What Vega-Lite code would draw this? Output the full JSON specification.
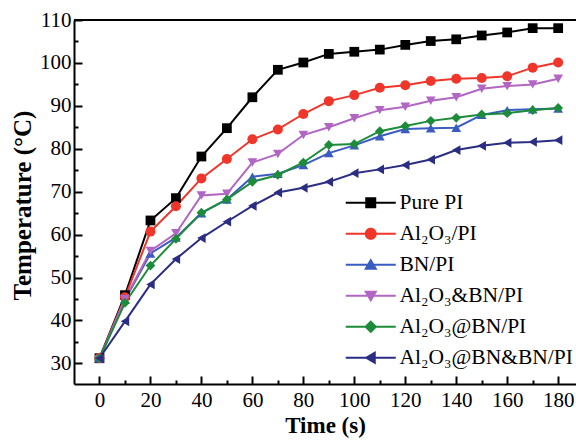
{
  "$schema": "https://vega.github.io/schema/vega-lite/v6.json",
  "width": 502,
  "height": 364,
  "autosize": {"type": "none"},
  "padding": {"left": 74, "top": 20, "right": 0, "bottom": 60},
  "background": "white",
  "config": {
    "view": {"stroke": null},
    "axis": {
      "grid": false,
      "domainColor": "black",
      "domainWidth": 2,
      "tickColor": "black",
      "tickWidth": 2,
      "labelFont": "Liberation Serif",
      "labelFontSize": 21,
      "labelColor": "black",
      "titleFont": "Liberation Serif",
      "titleFontSize": 23,
      "titleFontWeight": "bold",
      "titleColor": "black"
    },
    "legend": {
      "labelFont": "Liberation Serif",
      "labelFontSize": 21.5,
      "labelColor": "black",
      "labelLimit": 400,
      "symbolOpacity": 1,
      "symbolStrokeWidth": 0
    }
  },
  "data": {
    "values": [
      {"t": 0, "T": 31.2, "s": "Pure PI"}, {"t": 10, "T": 45.9, "s": "Pure PI"}, {"t": 20, "T": 63.3, "s": "Pure PI"}, {"t": 30, "T": 68.5, "s": "Pure PI"}, {"t": 40, "T": 78.2, "s": "Pure PI"}, {"t": 50, "T": 84.8, "s": "Pure PI"}, {"t": 60, "T": 92.0, "s": "Pure PI"}, {"t": 70, "T": 98.4, "s": "Pure PI"}, {"t": 80, "T": 100.1, "s": "Pure PI"}, {"t": 90, "T": 102.1, "s": "Pure PI"}, {"t": 100, "T": 102.6, "s": "Pure PI"}, {"t": 110, "T": 103.1, "s": "Pure PI"}, {"t": 120, "T": 104.2, "s": "Pure PI"}, {"t": 130, "T": 105.1, "s": "Pure PI"}, {"t": 140, "T": 105.5, "s": "Pure PI"}, {"t": 150, "T": 106.4, "s": "Pure PI"}, {"t": 160, "T": 107.1, "s": "Pure PI"}, {"t": 170, "T": 108.1, "s": "Pure PI"}, {"t": 180, "T": 108.1, "s": "Pure PI"},
      {"t": 0, "T": 31.2, "s": "Al₂O₃/PI"}, {"t": 10, "T": 45.4, "s": "Al₂O₃/PI"}, {"t": 20, "T": 60.7, "s": "Al₂O₃/PI"}, {"t": 30, "T": 66.6, "s": "Al₂O₃/PI"}, {"t": 40, "T": 73.1, "s": "Al₂O₃/PI"}, {"t": 50, "T": 77.6, "s": "Al₂O₃/PI"}, {"t": 60, "T": 82.2, "s": "Al₂O₃/PI"}, {"t": 70, "T": 84.5, "s": "Al₂O₃/PI"}, {"t": 80, "T": 88.1, "s": "Al₂O₃/PI"}, {"t": 90, "T": 91.1, "s": "Al₂O₃/PI"}, {"t": 100, "T": 92.5, "s": "Al₂O₃/PI"}, {"t": 110, "T": 94.2, "s": "Al₂O₃/PI"}, {"t": 120, "T": 94.8, "s": "Al₂O₃/PI"}, {"t": 130, "T": 95.8, "s": "Al₂O₃/PI"}, {"t": 140, "T": 96.3, "s": "Al₂O₃/PI"}, {"t": 150, "T": 96.5, "s": "Al₂O₃/PI"}, {"t": 160, "T": 96.9, "s": "Al₂O₃/PI"}, {"t": 170, "T": 98.9, "s": "Al₂O₃/PI"}, {"t": 180, "T": 100.1, "s": "Al₂O₃/PI"},
      {"t": 0, "T": 31.2, "s": "BN/PI"}, {"t": 10, "T": 44.8, "s": "BN/PI"}, {"t": 20, "T": 55.6, "s": "BN/PI"}, {"t": 30, "T": 59.3, "s": "BN/PI"}, {"t": 40, "T": 65.0, "s": "BN/PI"}, {"t": 50, "T": 68.2, "s": "BN/PI"}, {"t": 60, "T": 73.5, "s": "BN/PI"}, {"t": 70, "T": 74.2, "s": "BN/PI"}, {"t": 80, "T": 76.2, "s": "BN/PI"}, {"t": 90, "T": 79.0, "s": "BN/PI"}, {"t": 100, "T": 80.8, "s": "BN/PI"}, {"t": 110, "T": 82.9, "s": "BN/PI"}, {"t": 120, "T": 84.6, "s": "BN/PI"}, {"t": 130, "T": 84.8, "s": "BN/PI"}, {"t": 140, "T": 84.9, "s": "BN/PI"}, {"t": 150, "T": 87.9, "s": "BN/PI"}, {"t": 160, "T": 89.0, "s": "BN/PI"}, {"t": 170, "T": 89.2, "s": "BN/PI"}, {"t": 180, "T": 89.4, "s": "BN/PI"},
      {"t": 0, "T": 31.0, "s": "Al₂O₃&BN/PI"}, {"t": 10, "T": 45.0, "s": "Al₂O₃&BN/PI"}, {"t": 20, "T": 56.2, "s": "Al₂O₃&BN/PI"}, {"t": 30, "T": 60.3, "s": "Al₂O₃&BN/PI"}, {"t": 40, "T": 69.1, "s": "Al₂O₃&BN/PI"}, {"t": 50, "T": 69.5, "s": "Al₂O₃&BN/PI"}, {"t": 60, "T": 76.8, "s": "Al₂O₃&BN/PI"}, {"t": 70, "T": 78.8, "s": "Al₂O₃&BN/PI"}, {"t": 80, "T": 83.2, "s": "Al₂O₃&BN/PI"}, {"t": 90, "T": 85.0, "s": "Al₂O₃&BN/PI"}, {"t": 100, "T": 87.1, "s": "Al₂O₃&BN/PI"}, {"t": 110, "T": 89.0, "s": "Al₂O₃&BN/PI"}, {"t": 120, "T": 89.8, "s": "Al₂O₃&BN/PI"}, {"t": 130, "T": 91.2, "s": "Al₂O₃&BN/PI"}, {"t": 140, "T": 92.0, "s": "Al₂O₃&BN/PI"}, {"t": 150, "T": 94.0, "s": "Al₂O₃&BN/PI"}, {"t": 160, "T": 94.6, "s": "Al₂O₃&BN/PI"}, {"t": 170, "T": 95.0, "s": "Al₂O₃&BN/PI"}, {"t": 180, "T": 96.3, "s": "Al₂O₃&BN/PI"},
      {"t": 0, "T": 31.2, "s": "Al₂O₃@BN/PI"}, {"t": 10, "T": 44.1, "s": "Al₂O₃@BN/PI"}, {"t": 20, "T": 52.8, "s": "Al₂O₃@BN/PI"}, {"t": 30, "T": 59.0, "s": "Al₂O₃@BN/PI"}, {"t": 40, "T": 65.1, "s": "Al₂O₃@BN/PI"}, {"t": 50, "T": 68.2, "s": "Al₂O₃@BN/PI"}, {"t": 60, "T": 72.3, "s": "Al₂O₃@BN/PI"}, {"t": 70, "T": 73.9, "s": "Al₂O₃@BN/PI"}, {"t": 80, "T": 76.8, "s": "Al₂O₃@BN/PI"}, {"t": 90, "T": 80.9, "s": "Al₂O₃@BN/PI"}, {"t": 100, "T": 81.1, "s": "Al₂O₃@BN/PI"}, {"t": 110, "T": 84.1, "s": "Al₂O₃@BN/PI"}, {"t": 120, "T": 85.3, "s": "Al₂O₃@BN/PI"}, {"t": 130, "T": 86.5, "s": "Al₂O₃@BN/PI"}, {"t": 140, "T": 87.2, "s": "Al₂O₃@BN/PI"}, {"t": 150, "T": 88.0, "s": "Al₂O₃@BN/PI"}, {"t": 160, "T": 88.3, "s": "Al₂O₃@BN/PI"}, {"t": 170, "T": 89.0, "s": "Al₂O₃@BN/PI"}, {"t": 180, "T": 89.5, "s": "Al₂O₃@BN/PI"},
      {"t": 0, "T": 31.2, "s": "Al₂O₃@BN&BN/PI"}, {"t": 10, "T": 39.8, "s": "Al₂O₃@BN&BN/PI"}, {"t": 20, "T": 48.4, "s": "Al₂O₃@BN&BN/PI"}, {"t": 30, "T": 54.3, "s": "Al₂O₃@BN&BN/PI"}, {"t": 40, "T": 59.2, "s": "Al₂O₃@BN&BN/PI"}, {"t": 50, "T": 63.0, "s": "Al₂O₃@BN&BN/PI"}, {"t": 60, "T": 66.7, "s": "Al₂O₃@BN&BN/PI"}, {"t": 70, "T": 69.8, "s": "Al₂O₃@BN&BN/PI"}, {"t": 80, "T": 70.9, "s": "Al₂O₃@BN&BN/PI"}, {"t": 90, "T": 72.3, "s": "Al₂O₃@BN&BN/PI"}, {"t": 100, "T": 74.3, "s": "Al₂O₃@BN&BN/PI"}, {"t": 110, "T": 75.2, "s": "Al₂O₃@BN&BN/PI"}, {"t": 120, "T": 76.2, "s": "Al₂O₃@BN&BN/PI"}, {"t": 130, "T": 77.5, "s": "Al₂O₃@BN&BN/PI"}, {"t": 140, "T": 79.7, "s": "Al₂O₃@BN&BN/PI"}, {"t": 150, "T": 80.7, "s": "Al₂O₃@BN&BN/PI"}, {"t": 160, "T": 81.4, "s": "Al₂O₃@BN&BN/PI"}, {"t": 170, "T": 81.6, "s": "Al₂O₃@BN&BN/PI"}, {"t": 180, "T": 82.0, "s": "Al₂O₃@BN&BN/PI"}
    ]
  },
  "encoding": {
    "x": {
      "field": "t", "type": "quantitative",
      "scale": {"domain": [-10, 187], "nice": false, "zero": false},
      "axis": {
        "title": "Time (s)",
        "values": [0, 10, 20, 30, 40, 50, 60, 70, 80, 90, 100, 110, 120, 130, 140, 150, 160, 170, 180],
        "labelExpr": "datum.value % 20 === 0 ? datum.label : ''",
        "tickSize": {"condition": {"test": "datum.value % 20 === 0", "value": -8}, "value": -4},
        "labelPadding": 13,
        "titleY": 41,
        "titleBaseline": "middle"
      }
    },
    "y": {
      "field": "T", "type": "quantitative",
      "scale": {"domain": [25.2, 110], "nice": false, "zero": false},
      "axis": {
        "title": "Temperature (°C)",
        "titleFontSize": 25,
        "values": [30, 35, 40, 45, 50, 55, 60, 65, 70, 75, 80, 85, 90, 95, 100, 105, 110],
        "labelExpr": "datum.value % 10 === 0 ? datum.label : ''",
        "tickSize": {"condition": {"test": "datum.value % 10 === 0", "value": -8}, "value": -4},
        "labelPadding": 11,
        "titleX": -52,
        "titleY": 185,
        "titleBaseline": "middle"
      }
    },
    "color": {
      "field": "s", "type": "nominal",
      "scale": {
        "domain": ["Pure PI", "Al₂O₃/PI", "BN/PI", "Al₂O₃&BN/PI", "Al₂O₃@BN/PI", "Al₂O₃@BN&BN/PI"],
        "range": ["#000000", "#f0352a", "#3a5cc2", "#b266c4", "#1c8c3a", "#2b2d82"]
      }
    }
  },
  "layer": [
    {
      "mark": {"type": "rule", "strokeWidth": 2, "color": "black"},
      "encoding": {"y": {"datum": 110}, "x": null, "color": null}
    },
    {
      "mark": {"type": "line", "strokeWidth": 2},
      "encoding": {
        "color": {
          "field": "s", "type": "nominal",
          "legend": {
            "title": null,
            "orient": "none",
            "legendX": 286,
            "legendY": 172,
            "padding": 0,
            "symbolSize": 100,
            "symbolOpacity": 1,
            "symbolStrokeWidth": 0,
            "labelOffset": 18,
            "rowPadding": 8
          }
        }
      }
    },
    {
      "transform": [{"filter": {"field": "s", "equal": "Pure PI"}}],
      "mark": {"type": "point", "filled": true, "size": 95, "opacity": 1, "shape": "square"}
    },
    {
      "transform": [{"filter": {"field": "s", "equal": "Al₂O₃/PI"}}],
      "mark": {"type": "point", "filled": true, "size": 100, "opacity": 1, "shape": "circle"}
    },
    {
      "transform": [{"filter": {"field": "s", "equal": "BN/PI"}}],
      "mark": {"type": "point", "filled": true, "size": 95, "opacity": 1, "shape": "triangle-up"}
    },
    {
      "transform": [{"filter": {"field": "s", "equal": "Al₂O₃&BN/PI"}}],
      "mark": {"type": "point", "filled": true, "size": 95, "opacity": 1, "shape": "triangle-down"}
    },
    {
      "transform": [{"filter": {"field": "s", "equal": "Al₂O₃@BN/PI"}}],
      "mark": {"type": "point", "filled": true, "size": 95, "opacity": 1, "shape": "diamond"}
    },
    {
      "transform": [{"filter": {"field": "s", "equal": "Al₂O₃@BN&BN/PI"}}],
      "mark": {"type": "point", "filled": true, "size": 95, "opacity": 1, "shape": "triangle-left"}
    },
    {
      "mark": {"type": "point", "filled": true, "size": 100, "opacity": 0},
      "encoding": {
        "shape": {
          "field": "s", "type": "nominal", "legend": null,
          "scale": {
            "domain": ["Pure PI", "Al₂O₃/PI", "BN/PI", "Al₂O₃&BN/PI", "Al₂O₃@BN/PI", "Al₂O₃@BN&BN/PI"],
            "range": [
              "M-5,-0.2L5,-0.2L5,0.2L-5,0.2ZM-1.1,-1.1L1.1,-1.1L1.1,1.1L-1.1,1.1Z",
              "M-5,-0.2L5,-0.2L5,0.2L-5,0.2ZM-1.2,0A1.2,1.2,0,1,1,1.2,0A1.2,1.2,0,1,1,-1.2,0Z",
              "M-5,-0.2L5,-0.2L5,0.2L-5,0.2ZM0,-1.3L1.35,1L-1.35,1Z",
              "M-5,-0.2L5,-0.2L5,0.2L-5,0.2ZM0,1.3L-1.35,-1L1.35,-1Z",
              "M-5,-0.2L5,-0.2L5,0.2L-5,0.2ZM0,-1.3L1.3,0L0,1.3L-1.3,0Z",
              "M-5,-0.2L5,-0.2L5,0.2L-5,0.2ZM-1.3,0L1,-1.35L1,1.35Z"
            ]
          }
        }
      }
    }
  ]
}
